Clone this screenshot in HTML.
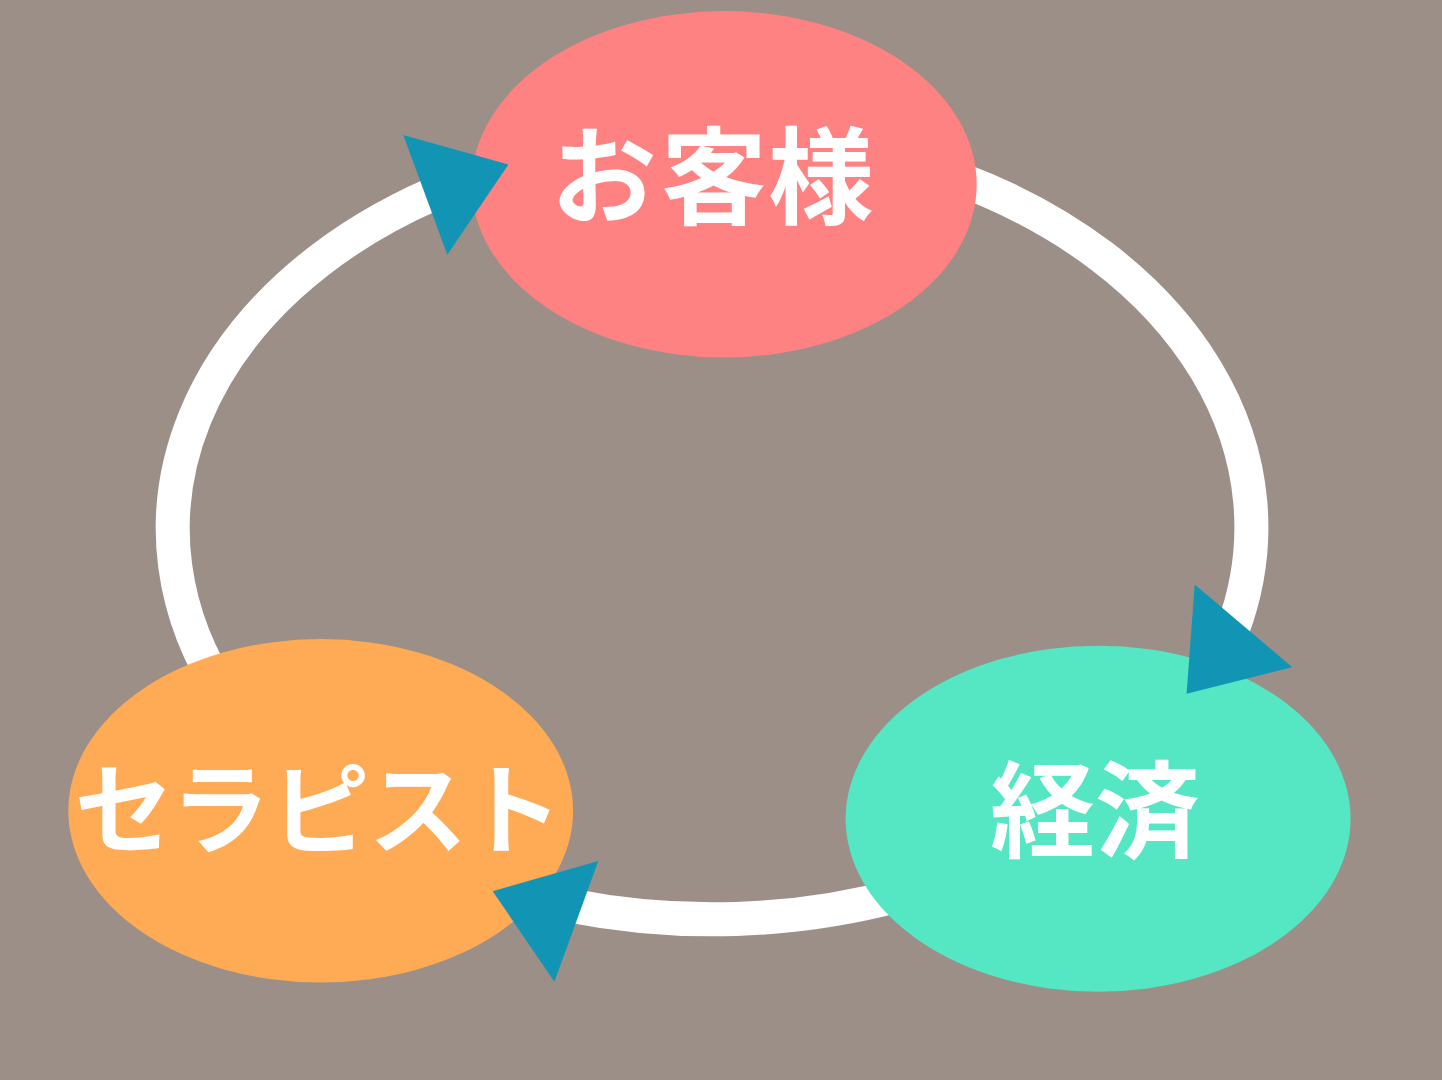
<!DOCTYPE html>
<html lang="ja">
<head>
<meta charset="utf-8">
<title>お客様・経済・セラピスト</title>
<style>
  html, body { margin: 0; padding: 0; background: #9b8f87; overflow: hidden; }
  body { width: 1442px; height: 1080px; position: relative; }
  svg { position: absolute; left: 0; top: 0; display: block; }
  .lbl {
    font-family: "Liberation Sans", "Noto Sans CJK JP", sans-serif;
    font-weight: 700;
    fill: #ffffff;
  }
</style>
</head>
<body>
<svg width="1442" height="1080" viewBox="0 0 1442 1080">
  <rect width="1442" height="1080" fill="#9b8f87"/>
  <!-- ring -->
  <g fill="none" stroke="#ffffff" stroke-width="34">
    <path d="M227.3 700.0A539.3 391.0 0 0 1 433.0 194.0"/>
    <path d="M960.2 179.4A539.4 391.6 0 0 1 1232.5 629.8"/>
    <path d="M900.0 894.8A539.4 391.3 0 0 1 569.9 905.5"/>
  </g>
  <!-- nodes -->
  <ellipse cx="724.1" cy="184.3" rx="252.6" ry="173.2" fill="#ff8282"/>
  <ellipse cx="320.7" cy="810.8" rx="252.4" ry="171.7" fill="#ffaa55"/>
  <ellipse cx="1098.1" cy="818.7" rx="252.5" ry="173" fill="#55e6c3"/>
  <!-- arrow heads -->
  <polygon points="403.3,134.9 508.4,164.5 447.3,254.8" fill="#1295b5"/>
  <polygon points="1194.7,584.5 1292.2,667.2 1186.6,693.8" fill="#1295b5"/>
  <polygon points="598.3,861 492.7,891.2 554.4,981.7" fill="#1295b5"/>
  <!-- labels -->
  <text class="lbl" id="t1" x="551 661.2 767.9" y="214.6 216.1 216.1" font-size="105.5">お客様</text>
  <text class="lbl" id="t2" x="74.6 170.8 270.8 368.6 463.6" y="846" font-size="99">セラピスト</text>
  <text class="lbl" id="t3" x="989.9 1094.85" y="848.9" font-size="105">経済</text>
</svg>
</body>
</html>
